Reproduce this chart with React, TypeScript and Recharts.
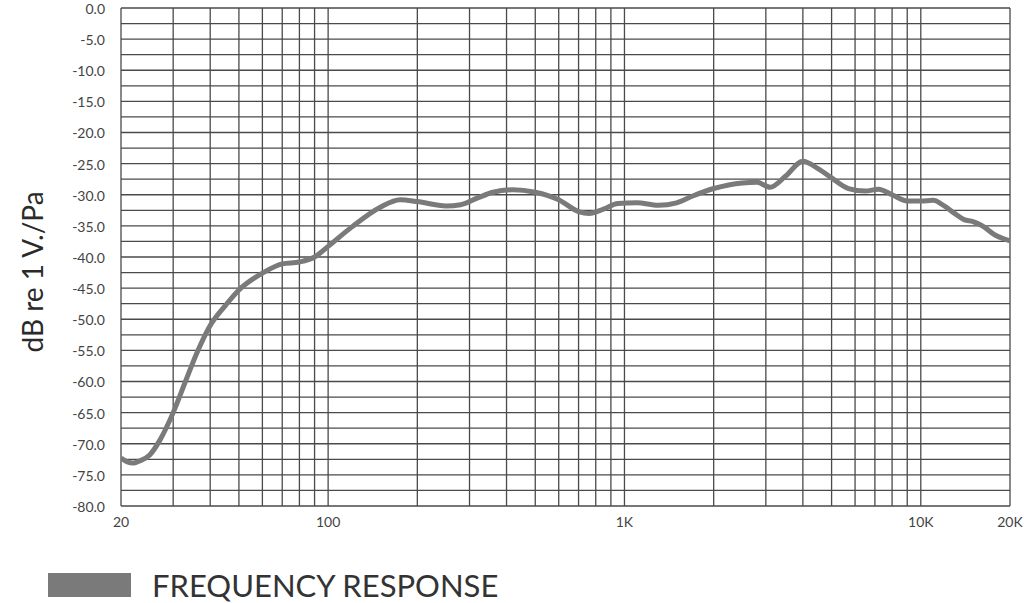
import { Line, LineChart, ReferenceLine, XAxis, YAxis } from 'recharts';

// frequency response
const FREQS = [
  20, 21, 22, 23, 25, 27, 30, 33, 36, 40, 45, 50, 60, 70, 80, 90, 100, 120, 150, 175, 200, 250, 280,
  320, 360, 420, 500, 600, 700, 760, 850, 950, 1100, 1300, 1500, 1700, 2000, 2500, 2800, 3100, 3500,
  4000, 4500, 5000, 5700, 6500, 7200, 8000, 9000, 10000, 11000, 12000, 13000, 14000, 15000, 16000,
  18000, 20000,
];
const LEVELS = [
  -72.3, -72.9, -73.1, -72.8, -71.8, -69.5, -65.0, -60.0, -55.5, -51.0, -47.8, -45.3, -42.6, -41.1,
  -40.8, -40.0, -38.3, -35.2, -32.0, -30.8, -31.1, -31.8, -31.6, -30.5, -29.6, -29.2, -29.6, -30.8,
  -32.7, -33.0, -32.3, -31.4, -31.3, -31.7, -31.3, -30.2, -29.0, -28.1, -28.0, -28.8, -27.0, -24.6,
  -25.8, -27.3, -29.0, -29.4, -29.1, -30.0, -31.0, -31.0, -30.9, -31.8, -33.0, -34.0, -34.3, -34.9,
  -36.6, -37.4,
];

const X_TICKS = [20, 100, 1000, 10000, 20000];
const X_LABELS: Record<number, string> = { 20: '20', 100: '100', 1000: '1K', 10000: '10K', 20000: '20K' };
const Y_TICKS = [0, -5, -10, -15, -20, -25, -30, -35, -40, -45, -50, -55, -60, -65, -70, -75, -80];
const GRID_FREQS = [
  20, 30, 40, 50, 60, 70, 80, 90, 100, 200, 300, 400, 500, 600, 700, 800, 900, 1000, 2000, 3000,
  4000, 5000, 6000, 7000, 8000, 9000, 10000, 20000,
];
const GRID_LEVELS = [
  0, -2.5, -5, -7.5, -10, -12.5, -15, -17.5, -20, -22.5, -25, -27.5, -30, -32.5, -35, -37.5, -40,
  -42.5, -45, -47.5, -50, -52.5, -55, -57.5, -60, -62.5, -65, -67.5, -70, -72.5, -75, -77.5, -80,
];

const data = FREQS.map((f, i) => ({ f, db: LEVELS[i] }));

const FONT = 'Lato, "Open Sans", sans-serif';
const GRID = '#4a4a4a';
const TICK = { fill: '#444', fontSize: 14, fontFamily: FONT };

export default function App() {
  return (
    <div
      style={{
        position: 'absolute',
        left: 0,
        top: 0,
        width: 1024,
        height: 603,
        background: '#fff',
        fontFamily: FONT,
      }}
    >
      <LineChart width={1024} height={541} data={data} margin={{ top: 8, right: 14, left: 0, bottom: 0 }}>
        <XAxis
          dataKey="f"
          type="number"
          scale="log"
          domain={[20, 20000]}
          ticks={X_TICKS}
          interval={0}
          tickFormatter={(v: number) => X_LABELS[v] ?? String(v)}
          axisLine={false}
          tickLine={false}
          tickMargin={5}
          height={35}
          tick={TICK}
          allowDataOverflow
        />
        <YAxis
          type="number"
          domain={[-80, 0]}
          ticks={Y_TICKS}
          interval={0}
          tickFormatter={(v: number) => v.toFixed(1)}
          axisLine={false}
          tickLine={false}
          tickMargin={10}
          width={121}
          tick={{ ...TICK, dy: 1 }}
        />
        {GRID_LEVELS.map((v) => (
          <ReferenceLine key={`h${v}`} y={v} stroke={GRID} strokeWidth={1.3} />
        ))}
        {GRID_FREQS.map((f) => (
          <ReferenceLine key={`v${f}`} x={f} stroke={GRID} strokeWidth={1.3} />
        ))}
        <Line
          type="monotone"
          dataKey="db"
          stroke="#7a7a7a"
          strokeWidth={5}
          dot={false}
          isAnimationActive={false}
        />
      </LineChart>
      <div
        style={{
          position: 'absolute',
          left: 32,
          top: 272,
          transform: 'translate(-50%, -50%) rotate(-90deg)',
          whiteSpace: 'nowrap',
          fontSize: 28,
          color: '#2a2a2a',
        }}
      >
        dB re 1 V./Pa
      </div>
      <div style={{ position: 'absolute', left: 48, top: 573, width: 83, height: 24, background: '#7a7a7a' }} />
      <div
        style={{
          position: 'absolute',
          left: 152,
          top: 567,
          fontSize: 31,
          lineHeight: '36px',
          color: '#333',
          whiteSpace: 'nowrap',
        }}
      >
        FREQUENCY RESPONSE
      </div>
    </div>
  );
}
